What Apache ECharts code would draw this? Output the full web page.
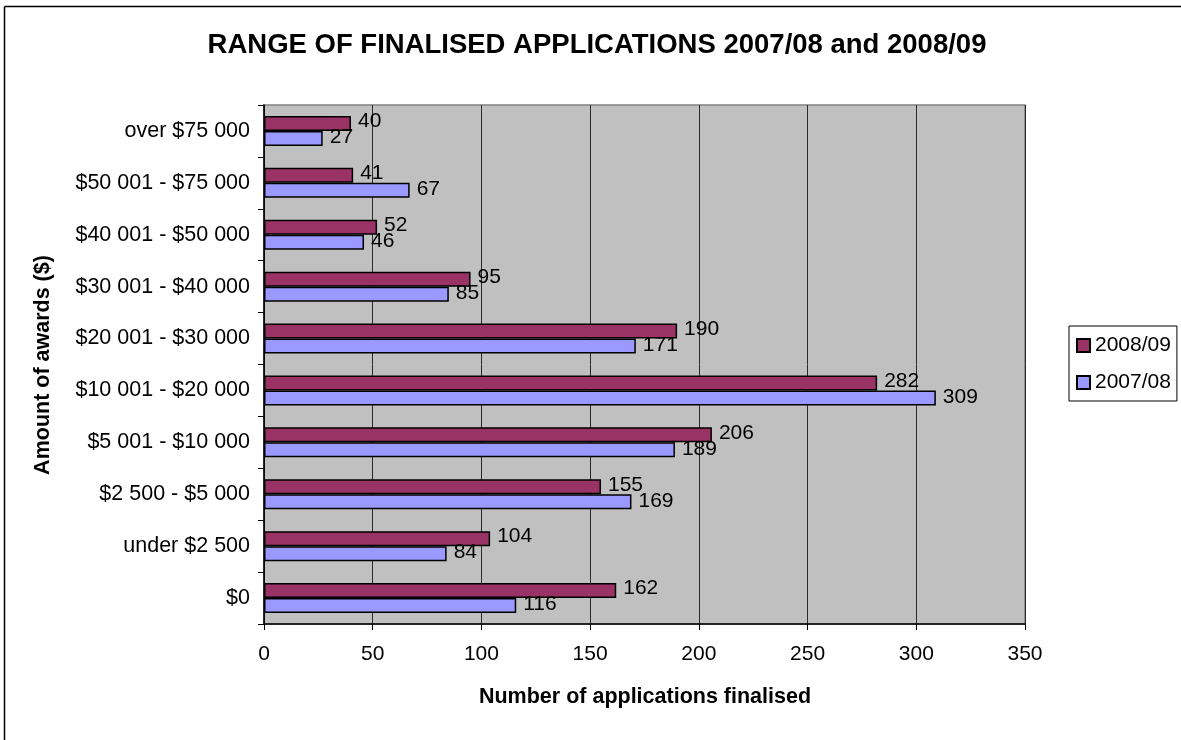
<!DOCTYPE html>
<html>
<head>
<meta charset="utf-8">
<script src="https://cdn.jsdelivr.net/npm/echarts@6/dist/echarts.min.js"></script>
<style>html,body{margin:0;padding:0;background:#fff}#c{width:1181px;height:740px}</style>
</head>
<body>
<div id="c"></div>
<script>
var categories = ['$0', 'under $2 500', '$2 500 - $5 000', '$5 001 - $10 000', '$10 001 - $20 000', '$20 001 - $30 000', '$30 001 - $40 000', '$40 001 - $50 000', '$50 001 - $75 000', 'over $75 000'];
var values2008 = [162, 104, 155, 206, 282, 190, 95, 52, 41, 40];
var values2007 = [116, 84, 169, 189, 309, 171, 85, 46, 67, 27];
var xTicks = [0, 50, 100, 150, 200, 250, 300, 350];

var FONT = '"Liberation Sans", Arial, sans-serif';
var chart = echarts.init(document.getElementById('c'), null, {renderer: 'canvas'});
chart.setOption({
  animation: false,
  backgroundColor: '#ffffff',
  title: {
    text: 'RANGE OF FINALISED APPLICATIONS 2007/08 and 2008/09',
    left: 597, top: 45, textAlign: 'center', textVerticalAlign: 'middle',
    padding: 0,
    textStyle: {fontFamily: FONT, fontSize: 27.5, fontWeight: 'bold', color: '#000'}
  },
  legend: {
    orient: 'vertical',
    left: 1069, top: 326,
    data: ['2008/09', '2007/08'],
    itemWidth: 13, itemHeight: 13, itemGap: 16,
    padding: [9, 6, 8, 7],
    borderColor: '#000', borderWidth: 1,
    backgroundColor: '#fff',
    icon: 'rect',
    textStyle: {fontFamily: FONT, fontSize: 21, lineHeight: 21, color: '#000'}
  },
  grid: {
    left: 264, top: 105, right: 156, bottom: 116,
    show: true, backgroundColor: '#C0C0C0', borderColor: '#808080', borderWidth: 1.5,
    containLabel: false
  },
  xAxis: {
    type: 'value', min: xTicks[0], max: xTicks[xTicks.length - 1], interval: 50,
    axisLine: {show: true, lineStyle: {color: '#000', width: 1.5}},
    axisTick: {show: true, length: 6, lineStyle: {color: '#000'}},
    axisLabel: {fontFamily: FONT, fontSize: 21, color: '#000', margin: 20},
    splitLine: {show: true, lineStyle: {color: '#2a2a2a', width: 1}}
  },
  yAxis: {
    type: 'category', data: categories,
    axisLine: {show: true, lineStyle: {color: '#000', width: 1.5}},
    axisTick: {show: true, length: 6, lineStyle: {color: '#000'}},
    axisLabel: {fontFamily: FONT, fontSize: 21.5, color: '#000', margin: 14},
    splitLine: {show: false}
  },
  series: [
    {
      name: '2008/09', type: 'bar', data: values2008,
      barWidth: 15, barGap: '0%',
      itemStyle: {color: '#993366', borderColor: '#000', borderWidth: 1.5},
      label: {show: true, position: 'right', distance: 7, offset: [0, -2],
        fontFamily: FONT, fontSize: 21, color: '#000'}
    },
    {
      name: '2007/08', type: 'bar', data: values2007,
      barWidth: 15, barGap: '0%',
      itemStyle: {color: '#9999FF', borderColor: '#000', borderWidth: 1.5},
      label: {show: true, position: 'right', distance: 7, offset: [0, -1],
        fontFamily: FONT, fontSize: 21, color: '#000'}
    }
  ],
  graphic: [
    {type: 'line', shape: {x1: 4.5, y1: 6.5, x2: 1181, y2: 6.5}, style: {stroke: '#000', lineWidth: 1.5}, silent: true},
    {type: 'line', shape: {x1: 4.5, y1: 6.5, x2: 4.5, y2: 740}, style: {stroke: '#000', lineWidth: 1.5}, silent: true},
    {type: 'text', x: 645, y: 697,
      style: {text: 'Number of applications finalised', font: 'bold 21.5px ' + FONT, fill: '#000', textAlign: 'center', textVerticalAlign: 'middle'}},
    {type: 'text', x: 43, y: 365, rotation: Math.PI / 2,
      style: {text: 'Amount of awards ($)', font: 'bold 21.5px ' + FONT, fill: '#000', textAlign: 'center', textVerticalAlign: 'middle'}}
  ]
});
</script>
</body>
</html>
